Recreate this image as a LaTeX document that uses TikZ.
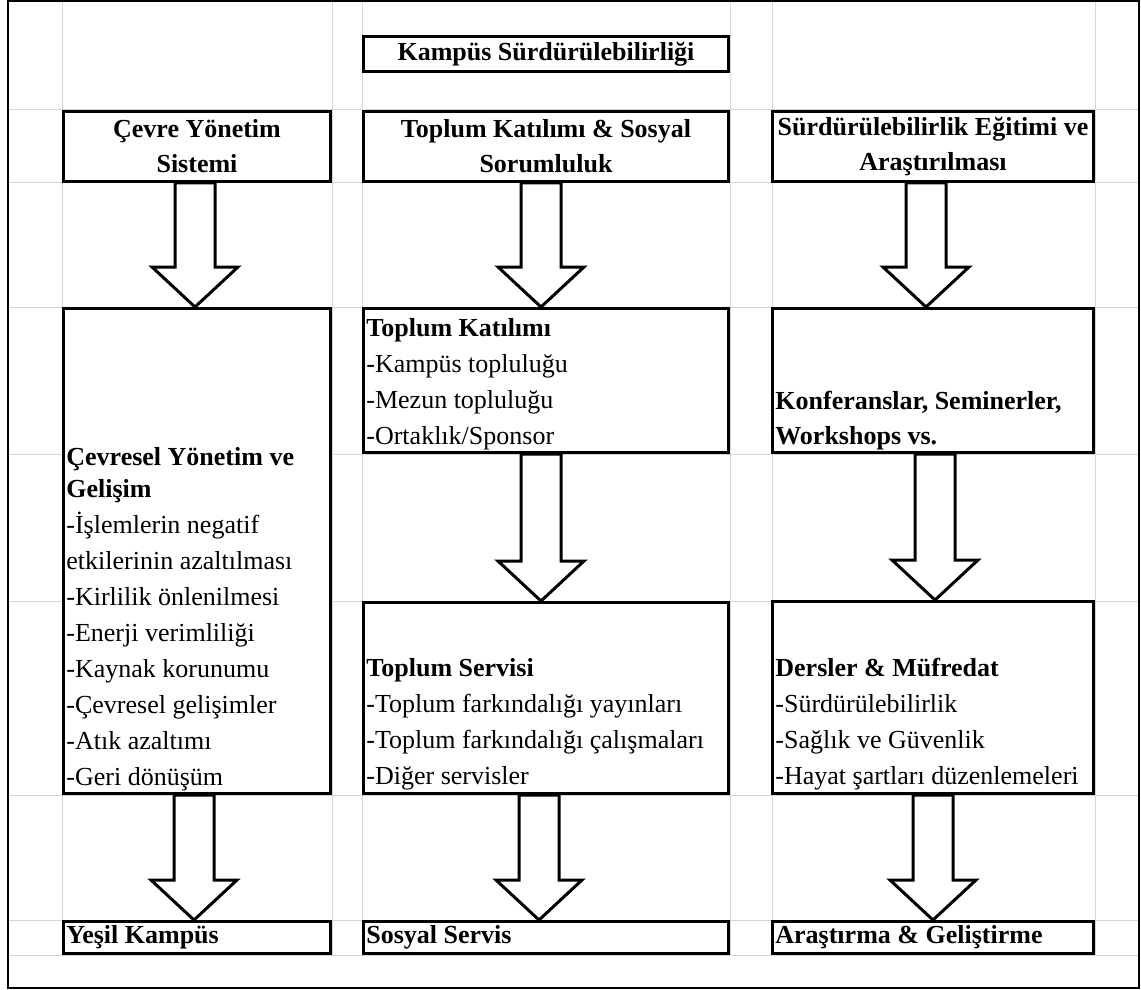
\documentclass[tikz,border=0pt]{standalone}
\usepackage{fontspec}
\setmainfont{Liberation Serif}
\usetikzlibrary{calc}

\begin{document}
\begin{tikzpicture}[x=0.5pt, y=-0.5pt,
  cell/.style={draw, line width=1.5pt, fill=white, inner sep=0pt, align=center,
    font=\fontsize{13}{17.5}\selectfont\bfseries},
  lcol/.style={cell, minimum width=133.5pt},
  mcol/.style={cell, minimum width=182.5pt},
  rcol/.style={cell, minimum width=160.5pt},
  txt/.style={inner sep=2pt, anchor=south west, align=left, font=\fontsize{13}{18}\selectfont},
  gridline/.style={black!16, line width=0.5pt},
  hollow/.style={draw, line width=1.5pt, fill=white, to path={
    let \p1=(\tikztostart), \p2=(\tikztotarget) in
    (\x1-10pt,\y1) -- (\x1-10pt,\y2+20pt) -- (\x1-21.5pt,\y2+20pt) -- (\x1,\y2)
    -- (\x1+21.5pt,\y2+20pt) -- (\x1+10pt,\y2+20pt) -- (\x1+10pt,\y1) -- cycle}}]
\useasboundingbox (0,0) rectangle (1141,990);

\foreach \gx in {62,332,362,730,772,1095}
  \draw[gridline] (\gx,0) -- (\gx,955);
\foreach \gy in {110,183,307,454,601,795,920,955}
  \draw[gridline] (8,\gy) -- (1140,\gy);
\draw[line width=1pt] (8,1) rectangle (1139,988);

\node[mcol, minimum height=17.5pt] (title) at (546,54) {Kampüs Sürdürülebilirliği};

\node[lcol, minimum height=35pt] (env) at (197,146.5) {Çevre Yönetim\\Sistemi};
\node[mcol, minimum height=35pt] (comm) at (546,146.5) {Toplum Katılımı \& Sosyal\\Sorumluluk};
\node[rcol, minimum height=35pt] (edu) at (933,146.5) {Sürdürülebilirlik Eğitimi ve\\Araştırılması};

\node[lcol, minimum height=242.5pt] (envdev) at (197,551) {};
\node[mcol, minimum height=72pt] (part) at (546,380.5) {};
\node[rcol, minimum height=72pt] (conf) at (933,380.5) {};
\node[mcol, minimum height=95.5pt] (serv) at (546,698) {};
\node[rcol, minimum height=96pt] (course) at (933,697.5) {};

\node[lcol, minimum height=16pt] (green) at (197,937.5) {};
\node[mcol, minimum height=16pt] (social) at (546,937.5) {};
\node[rcol, minimum height=16pt] (rnd) at (933,937.5) {};

\draw[hollow] ([xshift=-1pt]env.south) to ([xshift=-1pt]envdev.north);
\draw[hollow] ([xshift=-2.5pt]comm.south) to ([xshift=-2.5pt]part.north);
\draw[hollow] ([xshift=-3.5pt]edu.south) to ([xshift=-3.5pt]conf.north);
\draw[hollow] ([xshift=-2.5pt]part.south) to ([xshift=-2.5pt]serv.north);
\draw[hollow] ([xshift=1pt]conf.south) to ([xshift=1pt]course.north);
\draw[hollow] ([xshift=-1.5pt]envdev.south) to ([xshift=-1.5pt]green.north);
\draw[hollow] ([xshift=-3.5pt]serv.south) to ([xshift=-3.5pt]social.north);
\draw[hollow] ([xshift=0pt]course.south) to ([xshift=0pt]rnd.north);

\node[txt] (envdevtxt) at (envdev.south west) {\textbf{Çevresel Yönetim ve}\\[-2pt]\textbf{Gelişim}\\-İşlemlerin negatif\\etkilerinin azaltılması\\-Kirlilik önlenilmesi\\-Enerji verimliliği\\-Kaynak korunumu\\-Çevresel gelişimler\\-Atık azaltımı\\-Geri dönüşüm};
\node[txt] (parttxt) at (part.south west) {\textbf{Toplum Katılımı}\\-Kampüs topluluğu\\-Mezun topluluğu\\-Ortaklık/Sponsor};
\node[txt] (conftxt) at (conf.south west) {\textbf{Konferanslar, Seminerler,}\\[-0.5pt]\textbf{Workshops vs.}};
\node[txt] (servtxt) at (serv.south west) {\textbf{Toplum Servisi}\\-Toplum farkındalığı yayınları\\-Toplum farkındalığı çalışmaları\\-Diğer servisler};
\node[txt] (coursetxt) at (course.south west) {\textbf{Dersler \& Müfredat}\\-Sürdürülebilirlik\\-Sağlık ve Güvenlik\\-Hayat şartları düzenlemeleri};

\node[txt, anchor=west] (greentxt) at (green.west) {\textbf{Yeşil Kampüs}};
\node[txt, anchor=west] (socialtxt) at (social.west) {\textbf{Sosyal Servis}};
\node[txt, anchor=west] (rndtxt) at (rnd.west) {\textbf{Araştırma \& Geliştirme}};
\end{tikzpicture}
\end{document}
